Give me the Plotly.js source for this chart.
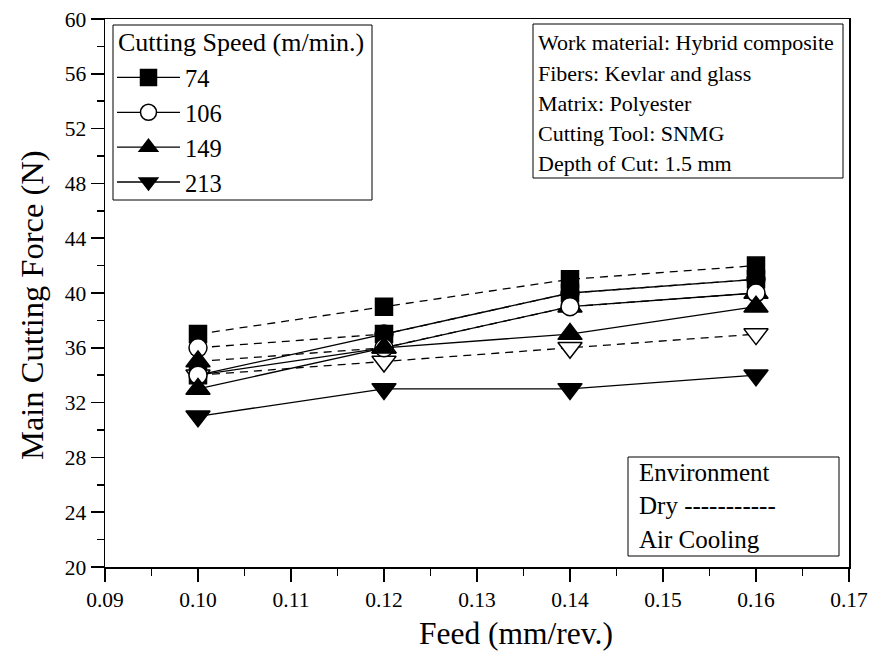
<!DOCTYPE html>
<html>
<head>
<meta charset="utf-8">
<script src="https://cdn.plot.ly/plotly-3.0.1.min.js"></script>
<style>html,body{margin:0;padding:0;background:#fff;}#chart{width:877px;height:657px;}</style>
</head>
<body>
<div id="chart"></div>
<script>
// Data
const feed = [0.10, 0.12, 0.14, 0.16];
const speeds = ['74', '106', '149', '213'];
// Air cooling (solid lines)
const air74  = [34, 37, 40, 41];
const air106 = [34, 36, 39, 40];
const air149 = [33, 36, 37, 39];
const air213 = [31, 33, 33, 34];
// Dry (dashed lines)
const dry74  = [37, 39, 41, 42];
const dry106 = [36, 37, 40, 41];
const dry149 = [35, 36, 39, 40];
const dry213 = [34, 35, 36, 37];

const xTickVals = [0.09, 0.10, 0.11, 0.12, 0.13, 0.14, 0.15, 0.16, 0.17];
const xTickText = ['0.09', '0.10', '0.11', '0.12', '0.13', '0.14', '0.15', '0.16', '0.17'];

const legendTitle = 'Cutting Speed (m/min.)';
const infoLines = ['Work material: Hybrid composite', 'Fibers: Kevlar and glass', 'Matrix: Polyester', 'Cutting Tool: SNMG', 'Depth of Cut: 1.5 mm'];
const envLines = ['Environment', 'Dry -----------', 'Air Cooling'];
const xTitle = 'Feed (mm/rev.)';
const yTitle = 'Main Cutting Force (N)';

const FONT = '"Liberation Serif", "Times New Roman", serif';

const airSymbols = ['square', 'circle', 'triangle-up', 'triangle-down'];
const airFills   = ['#000', '#fff', '#000', '#000'];
const drySymbols = ['square', 'circle', 'triangle-up', 'triangle-down'];
const dryFills   = ['#000', '#fff', '#000', '#fff'];
const sizes = [17, 18, 21, 21];

const airSeries = [air74, air106, air149, air213];
const drySeries = [dry74, dry106, dry149, dry213];

const traces = [];
drySeries.forEach((ys, i) => {
  traces.push({
    x: feed, y: ys, type: 'scatter', mode: 'lines+markers', showlegend: false,
    line: {color: '#000', width: 1.3, dash: '8px,6px'},
    marker: {symbol: drySymbols[i], size: sizes[i], color: dryFills[i], line: {color: '#000', width: 1.5}}
  });
});
airSeries.forEach((ys, i) => {
  traces.push({
    x: feed, y: ys, type: 'scatter', mode: 'lines+markers', name: speeds[i],
    line: {color: '#000', width: 1.3},
    marker: {symbol: airSymbols[i], size: sizes[i], color: airFills[i], line: {color: '#000', width: 1.5}}
  });
});

const L = 105, R = 849, T = 19, B = 567;
const W = 877, H = 657;
const px = v => (v - L) / (R - L);
const py = v => (B - v) / (B - T);

const annotations = [];
const shapes = [];
// legend frame + title
shapes.push({type: 'rect', xref: 'paper', yref: 'paper', x0: px(113), x1: px(372), y0: py(200), y1: py(25),
             line: {color: '#000', width: 1}, fillcolor: 'rgba(0,0,0,0)', layer: 'above'});
annotations.push({xref: 'paper', yref: 'paper', x: px(116), y: py(43), xanchor: 'left', yanchor: 'middle',
                  text: legendTitle, showarrow: false, font: {family: FONT, size: 26, color: '#000'}});
// info box
shapes.push({type: 'rect', xref: 'paper', yref: 'paper', x0: px(533), x1: px(843), y0: py(178), y1: py(24),
             line: {color: '#000', width: 1}, fillcolor: '#fff', layer: 'above'});
infoLines.forEach((t, i) => {
  annotations.push({xref: 'paper', yref: 'paper', x: px(536), y: py(43 + 30 * i), xanchor: 'left', yanchor: 'middle',
                    text: t, showarrow: false, font: {family: FONT, size: 22, color: '#000'}});
});
// environment box
shapes.push({type: 'rect', xref: 'paper', yref: 'paper', x0: px(628), x1: px(839), y0: py(556), y1: py(457),
             line: {color: '#000', width: 1}, fillcolor: '#fff', layer: 'above'});
envLines.forEach((t, i) => {
  annotations.push({xref: 'paper', yref: 'paper', x: px(637), y: py(473 + 33 * i), xanchor: 'left', yanchor: 'middle',
                    text: t, showarrow: false, font: {family: FONT, size: 25, color: '#000'}});
});
// axis titles
annotations.push({xref: 'paper', yref: 'paper', x: px(516), y: py(633), xanchor: 'center', yanchor: 'middle',
                  text: xTitle, showarrow: false, font: {family: FONT, size: 31.5, color: '#000'}});
annotations.push({xref: 'paper', yref: 'paper', x: px(32), y: py(305), xanchor: 'center', yanchor: 'middle', textangle: -90,
                  text: yTitle, showarrow: false, font: {family: FONT, size: 32.5, color: '#000'}});

const layout = {
  width: W, height: H,
  margin: {l: L, r: W - R, t: T, b: H - B},
  paper_bgcolor: '#fff', plot_bgcolor: '#fff',
  font: {family: FONT, color: '#000'},
  xaxis: {
    range: [0.09, 0.17], tickvals: xTickVals, ticktext: xTickText,
    ticks: 'outside', ticklen: 13, tickwidth: 1.5, tickcolor: '#000',
    minor: {dtick: 0.005, tick0: 0.09, ticks: 'outside', ticklen: 7, tickwidth: 1.5, tickcolor: '#000', showgrid: false},
    showline: true, linecolor: '#000', linewidth: 1.5, mirror: true, showgrid: false, zeroline: false,
    tickfont: {family: FONT, size: 21.5}
  },
  yaxis: {
    range: [20, 60], dtick: 4, tick0: 20,
    ticks: 'outside', ticklen: 13, tickwidth: 1.5, tickcolor: '#000',
    minor: {dtick: 2, tick0: 20, ticks: 'outside', ticklen: 7, tickwidth: 1.5, tickcolor: '#000', showgrid: false},
    showline: true, linecolor: '#000', linewidth: 1.5, mirror: true, showgrid: false, zeroline: false,
    tickfont: {family: FONT, size: 21.5}
  },
  legend: {
    x: px(112), y: py(55), xanchor: 'left', yanchor: 'top',
    bgcolor: 'rgba(0,0,0,0)', borderwidth: 0,
    font: {family: FONT, size: 24.5, color: '#000'},
    tracegroupgap: 0, itemsizing: 'trace', itemwidth: 63
  },
  shapes: shapes,
  annotations: annotations
};

Plotly.newPlot('chart', traces, layout, {displayModeBar: false, staticPlot: true});
</script>
</body>
</html>
